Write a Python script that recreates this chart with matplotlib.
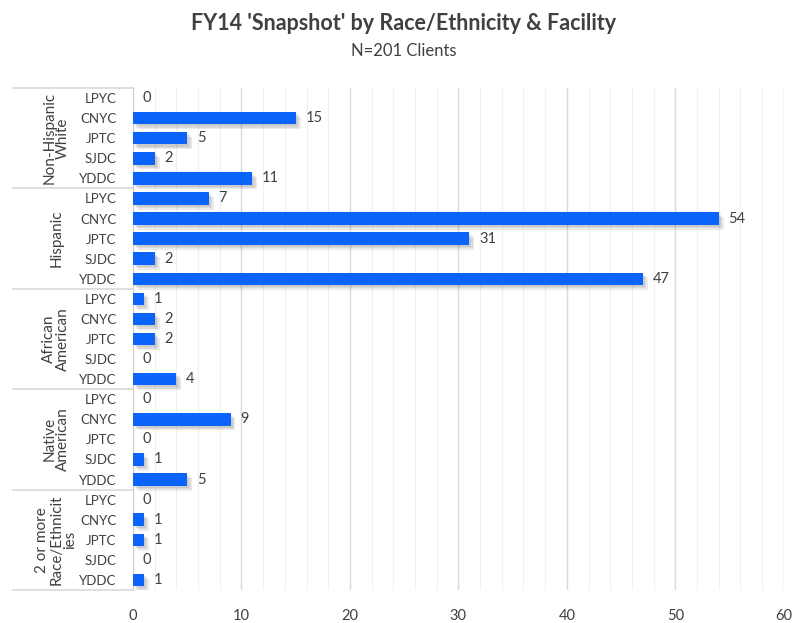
import numpy as np
import matplotlib.pyplot as plt
import matplotlib.patheffects as pe
from matplotlib.transforms import blended_transform_factory

plt.rcParams['font.family'] = ['Lato', 'DejaVu Sans']

# data
groups = ["Non-Hispanic\nWhite", "Hispanic", "African\nAmerican",
          "Native\nAmerican", "2 or more\nRace/Ethnicit\nies"]
facilities = ["LPYC", "CNYC", "JPTC", "SJDC", "YDDC"]
nh_white = [0, 15, 5, 2, 11]
hispanic = [7, 54, 31, 2, 47]
african_american = [1, 2, 2, 0, 4]
native_american = [0, 9, 0, 1, 5]
two_or_more = [0, 1, 1, 0, 1]

values = nh_white + hispanic + african_american + native_american + two_or_more
labels = facilities * len(groups)
y = np.arange(len(values))

fig = plt.figure(figsize=(8.08, 6.23), dpi=100)
ax = fig.add_axes([0.1646, 0.053, 0.8054, 0.8057])

bars = ax.barh(y, values, height=0.62, color="#0A64FA", zorder=3)
# soft drop shadow built from a few faint offset copies
shadow = [pe.SimplePatchShadow(offset=(d, -d), shadow_rgbFace="#606060", alpha=0.12)
          for d in (3.5, 2.5, 1.5)]
for b in bars:
    b.set_path_effects(shadow + [pe.Normal()])

for yi, v in zip(y, values):
    ax.annotate(str(v), (v, yi), xytext=(7, 0), textcoords="offset points",
                va="center", ha="left", fontsize=10.5, color="#404040")

ax.set_xlim(0, 60)
ax.set_ylim(len(values) - 0.5, -0.5)
ax.set_xticks(range(0, 61, 10))
ax.set_xticks(range(0, 61, 2), minor=True)
ax.grid(axis="x", which="major", color="#D9D9D9", linewidth=1, zorder=0)
ax.grid(axis="x", which="minor", color="#F0F0F0", linewidth=0.8, zorder=0)
ax.tick_params(axis="x", which="both", length=0, pad=14, labelsize=10.5, labelcolor="#404040")
ax.set_yticks(y)
ax.set_yticklabels(labels)
ax.tick_params(axis="y", length=0, pad=12, labelsize=9.5, labelcolor="#404040")
for s in ["top", "right", "bottom"]:
    ax.spines[s].set_visible(False)
ax.spines["left"].set_color("#D0D0D0")

# group labels and separators
trans = blended_transform_factory(ax.transAxes, ax.transData)
n = len(facilities)
for i, g in enumerate(groups):
    top = i * n - 0.5
    ax.plot([-0.184, 0], [top, top], transform=trans, color="#D9D9D9", lw=1.2, clip_on=False)
    ax.text(-0.118, i * n + (n - 1) / 2, g, transform=trans, rotation=90,
            ha="center", va="center", fontsize=11, color="#404040", linespacing=1.0)
end = len(groups) * n - 0.5
ax.plot([-0.184, 0], [end, end], transform=trans, color="#D9D9D9", lw=1.2, clip_on=False)

fig.text(0.5, 0.962, "FY14 'Snapshot' by Race/Ethnicity & Facility", ha="center", va="center",
         fontsize=15.5, fontweight="bold", color="#404040")
fig.text(0.5, 0.918, "N=201 Clients", ha="center", va="center", fontsize=12, color="#404040")

fig.savefig("out.png", dpi=100)
